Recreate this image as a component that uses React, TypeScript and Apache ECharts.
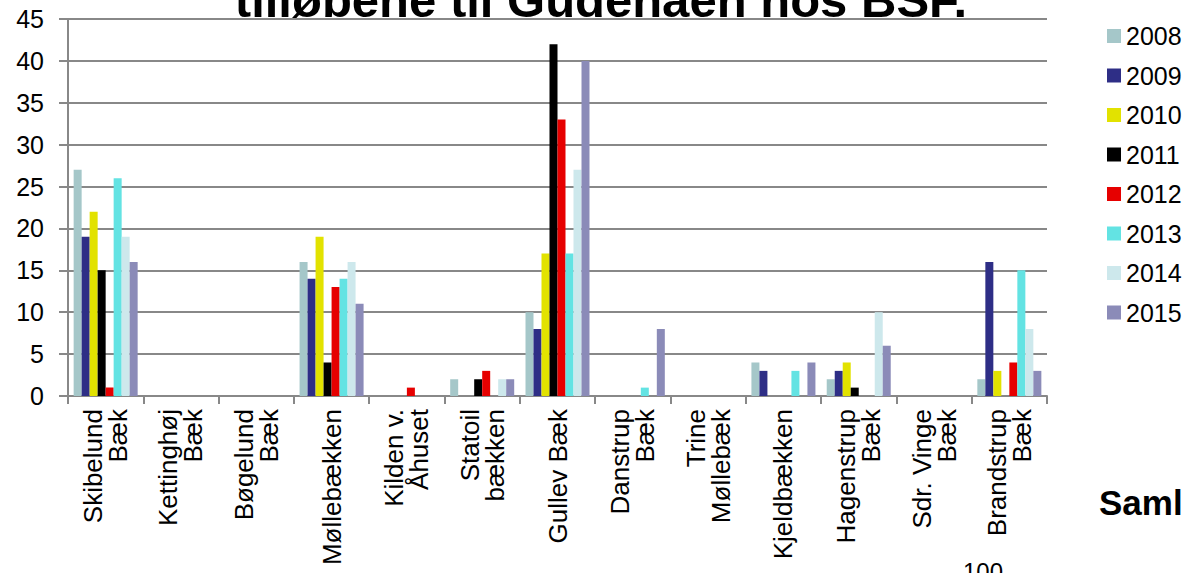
import React, { useEffect, useRef } from "react";
import * as echarts from "echarts";

const categories = [
  "Skibelund\nBæk",
  "Kettinghøj\nBæk",
  "Bøgelund\nBæk",
  "Møllebækken",
  "Kilden v.\nÅhuset",
  "Statoil\nbækken",
  "Gullev Bæk",
  "Danstrup\nBæk",
  "Trine\nMøllebæk",
  "Kjeldbækken",
  "Hagenstrup\nBæk",
  "Sdr. Vinge\nBæk",
  "Brandstrup\nBæk",
];

const years = ["2008", "2009", "2010", "2011", "2012", "2013", "2014", "2015"];

const v2008 = [27, 0, 0, 16, 0, 2, 10, 0, 0, 4, 2, 0, 2];
const v2009 = [19, 0, 0, 14, 0, 0, 8, 0, 0, 3, 3, 0, 16];
const v2010 = [22, 0, 0, 19, 0, 0, 17, 0, 0, 0, 4, 0, 3];
const v2011 = [15, 0, 0, 4, 0, 2, 42, 0, 0, 0, 1, 0, 0];
const v2012 = [1, 0, 0, 13, 1, 3, 33, 0, 0, 0, 0, 0, 4];
const v2013 = [26, 0, 0, 14, 0, 0, 17, 1, 0, 3, 0, 0, 15];
const v2014 = [19, 0, 0, 16, 0, 2, 27, 0, 0, 0, 10, 0, 8];
const v2015 = [16, 0, 0, 11, 0, 2, 40, 8, 0, 4, 6, 0, 3];

const seriesValues = [v2008, v2009, v2010, v2011, v2012, v2013, v2014, v2015];
const colors = ["#A5C7C9", "#2E2E86", "#E2E200", "#000000", "#E60000", "#63E3E3", "#CDE8EC", "#8B8BB8"];

const titleText = "tilløbene til Gudenåen hos BSF.";
const FONT = "'Liberation Sans', Arial, sans-serif";

export default function App() {
  const ref = useRef<HTMLDivElement>(null);
  useEffect(() => {
    if (!ref.current) return;
    const chart = echarts.init(ref.current, null, { renderer: "svg" });
    chart.setOption({
      animation: false,
      backgroundColor: "#ffffff",
      textStyle: { fontFamily: FONT },
      grid: { left: 68, right: 139, top: 19, bottom: 177, containLabel: false },
      legend: {
        orient: "vertical",
        left: 1107,
        top: 23,
        padding: 0,
        itemWidth: 14,
        itemHeight: 14,
        itemGap: 13.5,
        icon: "rect",
        data: years,
        textStyle: { fontSize: 25, color: "#000", fontFamily: FONT, lineHeight: 26 },
      },
      xAxis: {
        type: "category",
        data: categories,
        boundaryGap: true,
        axisLine: { show: true, lineStyle: { color: "#888", width: 2 } },
        axisTick: { show: true, length: 8, lineStyle: { color: "#888", width: 2 } },
        axisLabel: {
          rotate: 90,
          interval: 0,
          margin: 13,
          fontSize: 26,
          lineHeight: 25,
          color: "#000",
          fontFamily: FONT,
        },
      },
      yAxis: {
        type: "value",
        min: 0,
        max: 45,
        interval: 5,
        axisLine: { show: true, lineStyle: { color: "#888", width: 2 } },
        axisTick: { show: true, length: 9, lineStyle: { color: "#888", width: 2 } },
        splitLine: { show: true, lineStyle: { color: "#888", width: 2 } },
        axisLabel: { fontSize: 25, color: "#000", margin: 24, fontFamily: FONT },
      },
      series: years.map((y, i) => ({
        name: y,
        type: "bar",
        data: seriesValues[i],
        barGap: "0%",
        barCategoryGap: "15%",
        itemStyle: { color: colors[i] },
      })),
      graphic: [
        {
          type: "text",
          x: 601,
          y: 0,
          style: {
            text: titleText,
            font: "bold 49px " + FONT,
            fill: "#000",
            align: "center",
            verticalAlign: "middle",
          },
        },
        {
          type: "text",
          x: 1099,
          y: 485,
          style: {
            text: "Saml",
            font: "bold 35px " + FONT,
            fill: "#000",
            align: "left",
            verticalAlign: "top",
          },
        },
        {
          type: "text",
          x: 963,
          y: 559,
          style: {
            text: "100",
            font: "24px " + FONT,
            fill: "#000",
            align: "left",
            verticalAlign: "top",
          },
        },
      ],
    });
    return () => chart.dispose();
  }, []);
  return (
    <div
      ref={ref}
      style={{ width: 1186, height: 573, position: "fixed", left: 0, top: 0 }}
    />
  );
}
